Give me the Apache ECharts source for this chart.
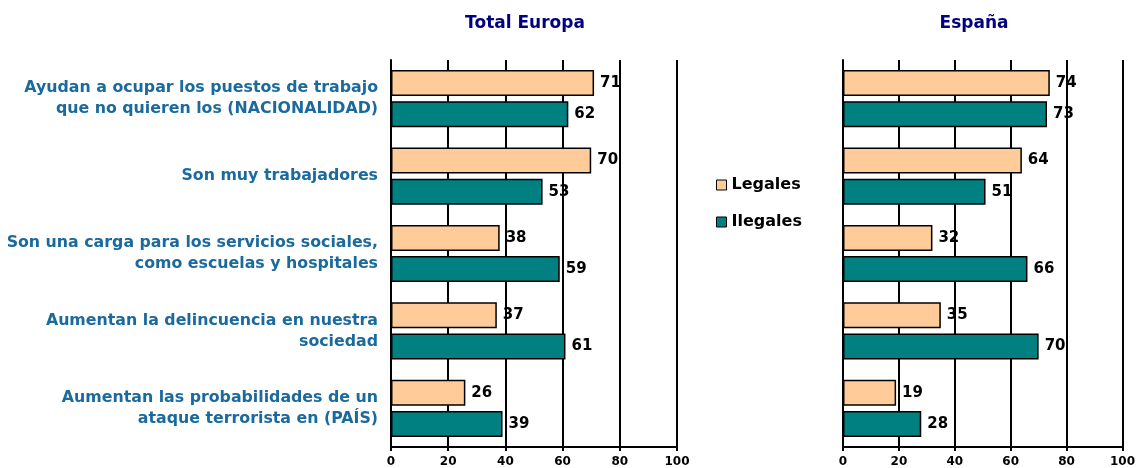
<!DOCTYPE html>
<html>
<head>
<meta charset="utf-8">
<script src="https://cdn.jsdelivr.net/npm/echarts@6/dist/echarts.min.js"></script>
<style>
  html, body { margin: 0; padding: 0; background: #fff; }
  #chart { width: 1138px; height: 468px; }
</style>
</head>
<body>
<div id="chart"></div>
<script>
'use strict';

const categories = [
  'Ayudan a ocupar los puestos de trabajo\nque no quieren los (NACIONALIDAD)',
  'Son muy trabajadores',
  'Son una carga para los servicios sociales,\ncomo escuelas y hospitales',
  'Aumentan la delincuencia en nuestra\nsociedad',
  'Aumentan las probabilidades de un\nataque terrorista en (PAÍS)'
];
const europaLegales = [71, 70, 38, 37, 26];
const europaIlegales = [62, 53, 59, 61, 39];
const espanaLegales = [74, 64, 32, 35, 19];
const espanaIlegales = [73, 51, 66, 70, 28];
const panelTitles = ['Total Europa', 'España'];
const seriesNames = ['Legales', 'Ilegales'];

const COLOR_LEG = '#FFCC99';
const COLOR_ILEG = '#008080';
const LABEL_FONT = '"DejaVu Sans", sans-serif';

function xAxisFor(gridIndex) {
  return {
    gridIndex, type: 'value', min: 0, max: 100, interval: 20,
    axisLine: { show: true, lineStyle: { color: '#000', width: 2 } },
    axisTick: { show: true, length: 4, lineStyle: { color: '#000', width: 2 } },
    axisLabel: { color: '#000', fontSize: 12, fontWeight: 'bold', fontFamily: LABEL_FONT, margin: 9 },
    splitLine: { show: true, lineStyle: { color: '#000', width: 2 } }
  };
}

function yAxisFor(gridIndex, showLabels) {
  return {
    gridIndex, type: 'category', data: categories, inverse: true,
    axisLine: { show: true, lineStyle: { color: '#000', width: 2 } },
    axisTick: { show: false },
    axisLabel: {
      show: showLabels, color: '#1B6A9E', fontSize: 15.8, fontWeight: 'bold',
      fontFamily: LABEL_FONT, lineHeight: 21, margin: 13, align: 'right'
    }
  };
}

function barSeries(name, data, idx, color) {
  return {
    name, type: 'bar', data, xAxisIndex: idx, yAxisIndex: idx,
    barWidth: 26, barGap: '20%', barCategoryGap: '27%',
    itemStyle: { color, borderColor: '#000', borderWidth: 1.5 },
    label: {
      show: true, position: 'right', distance: 6, color: '#000',
      fontSize: 15, fontWeight: 'bold', fontFamily: LABEL_FONT
    },
    z: 3
  };
}

const chart = echarts.init(document.getElementById('chart'), null, { renderer: 'canvas' });
chart.setOption({
  animation: false,
  backgroundColor: '#fff',
  title: [
    { text: panelTitles[0], left: 520, top: 10, textAlign: 'center',
      textStyle: { color: '#000080', fontSize: 17, fontWeight: 'bold', fontFamily: LABEL_FONT } },
    { text: panelTitles[1], left: 969, top: 10, textAlign: 'center',
      textStyle: { color: '#000080', fontSize: 17, fontWeight: 'bold', fontFamily: LABEL_FONT } }
  ],
  legend: {
    data: seriesNames, orient: 'vertical', left: 711, top: 172, itemGap: 21,
    itemWidth: 10, itemHeight: 10, icon: 'rect',
    itemStyle: { borderColor: '#000', borderWidth: 1 },
    textStyle: { color: '#000', fontSize: 16, fontWeight: 'bold', fontFamily: LABEL_FONT }
  },
  grid: [
    { left: 391, right: 461, top: 60, bottom: 19 },
    { left: 843, right: 10, top: 60, bottom: 19 }
  ],
  xAxis: [xAxisFor(0), xAxisFor(1)],
  yAxis: [yAxisFor(0, true), yAxisFor(1, false)],
  series: [
    barSeries(seriesNames[0], europaLegales, 0, COLOR_LEG),
    barSeries(seriesNames[1], europaIlegales, 0, COLOR_ILEG),
    barSeries(seriesNames[0], espanaLegales, 1, COLOR_LEG),
    barSeries(seriesNames[1], espanaIlegales, 1, COLOR_ILEG)
  ]
});
</script>
</body>
</html>
